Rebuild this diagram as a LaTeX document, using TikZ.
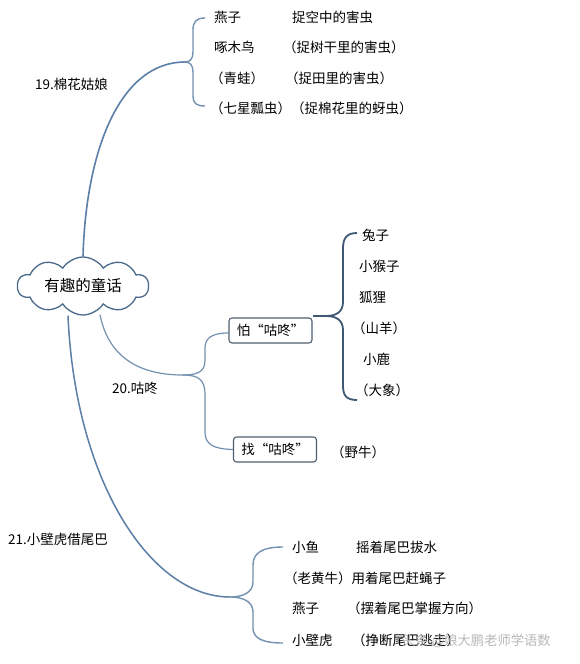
\documentclass[tikz,border=0pt]{standalone}
\usepackage{fontspec}
\setmainfont{Noto Sans CJK SC}
\usetikzlibrary{shapes.symbols,calc}
\definecolor{lineblue}{HTML}{5B7FA6}
\definecolor{darkbrace}{HTML}{3E5873}
\definecolor{lightblue}{HTML}{7391B0}
\definecolor{cloudline}{HTML}{4A6A8C}
\definecolor{boxline}{HTML}{4F5F70}
\begin{document}
\begin{tikzpicture}[x=1pt,y=-1pt,
  txt/.style={anchor=west,inner sep=0pt,font=\fontsize{13.5}{16}\selectfont},
  boxnode/.style={draw=boxline,line width=1.1pt,rounded corners=3pt,inner sep=0pt,
    minimum width=83pt,minimum height=25pt,font=\fontsize{13.5}{16}\selectfont},
  wm/.style={anchor=west,inner sep=0pt,text=gray!55,font=\fontsize{13.3}{16}\selectfont},
  mainline/.style={draw=lineblue,line width=1.6pt},
  branchline/.style={draw=lightblue,line width=1.2pt},
  lightbrace/.style={draw=lightblue,line width=1.4pt},
  darkbr/.style={draw=darkbrace,line width=1.8pt}]
\useasboundingbox[fill=white] (0,0) rectangle (580,664);

% central cloud
\node[cloud,draw=cloudline,line width=1.3pt,cloud puffs=10,cloud puff arc=115,cloud ignores aspect,
  minimum width=131pt,minimum height=58pt,inner sep=0pt,font=\fontsize{15.5}{18}\selectfont]
  (cloud) at (83,286) {有趣的童话};

% ---- 19 ----
\node[txt] (l19) at (35,84) {19.棉花姑娘};
\coordinate (b1t) at (205,18);
\coordinate (b1tip) at (185,62);
\coordinate (b1b) at (205,106);
\draw[mainline] (cloud.north) .. controls (86,150) and (120,62) .. (b1tip);
\draw[lightbrace] (b1t) .. controls (196,18) and (193,22) .. (193,30) -- (193,52)
  .. controls (193,59) and (190,62) .. (b1tip)
  .. controls (190,62) and (193,65) .. (193,72) -- (193,96)
  .. controls (193,103) and (196,106) .. (b1b);
\node[txt] (a1) at (214,17) {燕子};
\node[txt] (a1b) at (292,17) {捉空中的害虫};
\node[txt] (a2) at (214,47) {啄木鸟};
\node[txt] (a2b) at (283,47) {（捉树干里的害虫）};
\node[txt] (a3) at (210,78) {（青蛙）};
\node[txt] (a3b) at (285,78) {（捉田里的害虫）};
\node[txt] (a4) at (210,108) {（七星瓢虫）（捉棉花里的蚜虫）};

% ---- 20 ----
\node[txt] (l20) at (112,388) {20.咕咚};
\coordinate (j20) at (183,375);
\node[boxnode] (pa) at (270.5,330.5) {怕“咕咚”};
\node[boxnode] (zh) at (275,449.5) {找“咕咚”};
\draw[branchline] ($(cloud.south)+(17,-1)$) .. controls (110,365) and (150,375) .. (j20);
\draw[branchline] (j20) .. controls (199,375) and (205,371) .. (205,360) -- (205,348)
  .. controls (205,338) and (212,333) .. (pa.west |- 0,333);
\draw[branchline] (j20) .. controls (199,375) and (205,380) .. (205,395) -- (205,432)
  .. controls (205,444) and (213,449) .. (zh.west);
\coordinate (bAt) at (357,233);
\coordinate (bAtip) at (326,316);
\coordinate (bAb) at (357,400);
\draw[darkbr] (pa.east |- bAtip) -- (bAtip);
\draw[darkbr] (bAt) .. controls (347,233) and (343,238) .. (343,248) -- (343,302)
  .. controls (343,312) and (336,316) .. (bAtip)
  .. controls (336,316) and (343,320) .. (343,330) -- (343,386)
  .. controls (343,396) and (347,400) .. (bAb);
\node[txt] (c1) at (362,235) {兔子};
\node[txt] (c2) at (359,266) {小猴子};
\node[txt] (c3) at (359,297) {狐狸};
\node[txt] (c4) at (352,328) {（山羊）};
\node[txt] (c5) at (363,359) {小鹿};
\node[txt] (c6) at (355,390) {（大象）};
\node[txt] (c7) at (331,452) {（野牛）};

% ---- 21 ----
\node[txt] (l21) at (8,539) {21.小壁虎借尾巴};
\coordinate (b3t) at (283,547);
\coordinate (b3tip) at (230,597);
\coordinate (b3b) at (283,643);
\draw[mainline,line width=1.5pt] ($(cloud.south)+(-15,0)$) .. controls (75,480) and (150,597) .. (b3tip);
\draw[lightbrace] (b3t) .. controls (262,547) and (253,553) .. (253,565) -- (253,582)
  .. controls (253,593) and (242,597) .. (b3tip)
  .. controls (242,597) and (253,601) .. (253,612) -- (253,628)
  .. controls (253,638) and (262,643) .. (b3b);
\node[txt] (d1) at (292,547) {小鱼};
\node[txt] (d1b) at (356,547) {摇着尾巴拔水};
\node[txt] (d2) at (284,578) {（老黄牛）用着尾巴赶蝇子};
\node[txt] (d3) at (292,608) {燕子};
\node[txt] (d3b) at (347,608) {（摆着尾巴掌握方向）};
\node[txt] (d4) at (292,640) {小壁虎};
\node[txt] (d4b) at (352,640) {（挣断尾巴逃走）};
\node[wm] (wmk) at (402,641) {头条 @娘大鹏老师学语数};
\end{tikzpicture}
\end{document}
